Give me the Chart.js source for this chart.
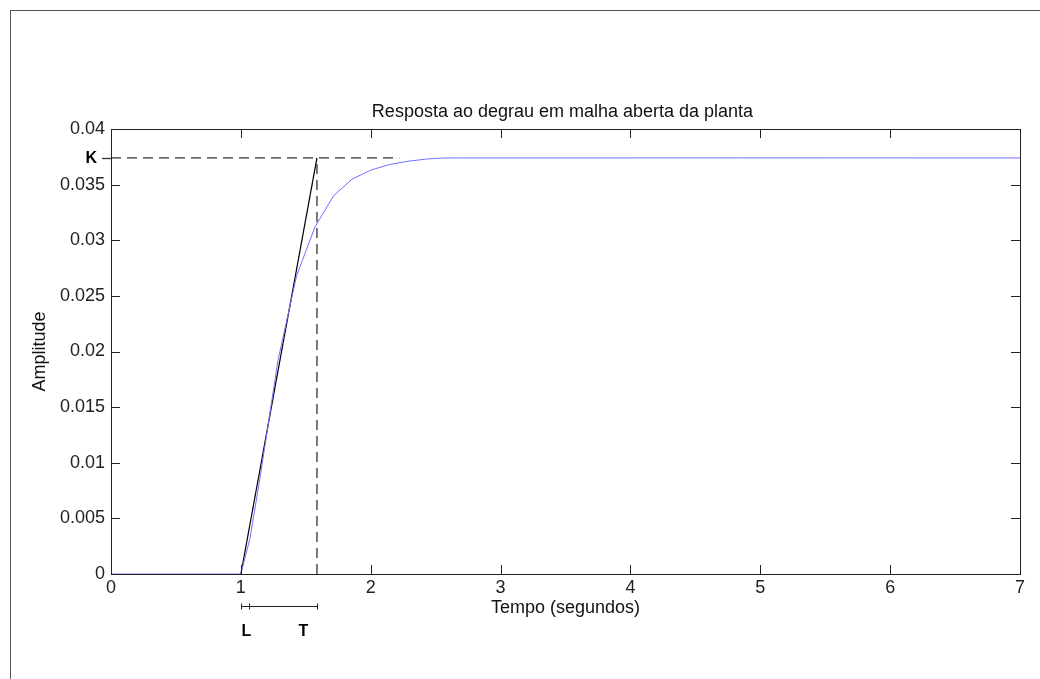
<!DOCTYPE html>
<html>
<head>
<meta charset="utf-8">
<script src="https://cdn.jsdelivr.net/npm/chart.js@4"></script>
<style>
  body { margin: 0; overflow: hidden; background: #fff; }
  #wrap { position: absolute; left: 0; top: 0; width: 1040px; height: 679px; }
  #frame { position: absolute; left: 10px; top: 10px; width: 1100px; height: 800px; border: 1px solid #555; pointer-events: none; }
</style>
</head>
<body>
<div id="wrap"><canvas id="stepChart" width="1040" height="679"></canvas></div>
<div id="frame"></div>
<script>
// Resposta ao degrau
const tempo = [0, 1, 1.07, 1.143, 1.286, 1.429, 1.571, 1.714, 1.857, 2.0, 2.143, 2.286, 2.429, 2.571, 2.714, 7];
const amplitude = [0, 0, 0.0032, 0.0083, 0.0192, 0.0268, 0.0312, 0.0340, 0.0355, 0.0363, 0.0368, 0.0371, 0.0373, 0.0374, 0.0374, 0.0374];

// Parâmetros do método da tangente
const K = 0.0374;
const L = 1.0;
const T = 1.586;
const fimLinhaK = 2.22;
const marcaL = 1.06;

const xTicks = [0, 1, 2, 3, 4, 5, 6, 7];
const yTicks = [0, 0.005, 0.01, 0.015, 0.02, 0.025, 0.03, 0.035, 0.04];

const fonte = { family: 'Liberation Sans, Arial, sans-serif', size: 18 };

// Desenho dos ticks internos, caixa, título e anotações (estilo MATLAB)
const matlabPlugin = {
    id: 'matlabStyle',
    afterDatasetsDraw(chart) {
        const ctx = chart.ctx;
        const a = chart.chartArea;
        const xs = chart.scales.x, ys = chart.scales.y;
        const tl = 9;
        ctx.save();
        ctx.strokeStyle = '#222';
        ctx.lineWidth = 1;
        ctx.beginPath();
        xTicks.forEach(v => {
            const px = Math.round(xs.getPixelForValue(v)) + 0.5;
            ctx.moveTo(px, a.bottom); ctx.lineTo(px, a.bottom - tl);
            ctx.moveTo(px, a.top); ctx.lineTo(px, a.top + tl);
        });
        yTicks.forEach(v => {
            const py = Math.round(ys.getPixelForValue(v)) + 0.5;
            ctx.moveTo(a.left, py); ctx.lineTo(a.left + tl, py);
            ctx.moveTo(a.right, py); ctx.lineTo(a.right - tl, py);
        });
        ctx.stroke();
        ctx.strokeRect(Math.round(a.left) + 0.5, Math.round(a.top) + 0.5,
            Math.round(a.right - a.left), Math.round(a.bottom - a.top));

        // título
        ctx.fillStyle = '#111';
        ctx.font = '18px Liberation Sans, Arial, sans-serif';
        ctx.textAlign = 'center';
        ctx.textBaseline = 'middle';
        ctx.fillText('Resposta ao degrau em malha aberta da planta', (a.left + a.right) / 2 - 3, a.top - 17);

        // K: rótulo e traço fora do eixo
        const pyK = Math.round(ys.getPixelForValue(K)) + 0.5;
        ctx.setLineDash([10, 6]);
        ctx.strokeStyle = '#333';
        ctx.lineWidth = 1.3;
        ctx.beginPath();
        ctx.moveTo(a.left - 9, pyK); ctx.lineTo(a.left, pyK);
        ctx.stroke();
        ctx.setLineDash([]);
        ctx.lineWidth = 1;
        ctx.font = 'bold 16px Liberation Sans, Arial, sans-serif';
        ctx.textAlign = 'right';
        ctx.fillStyle = '#000';
        ctx.fillText('K', a.left - 14, pyK);

        // colchete L / T abaixo do eixo
        const yB = a.bottom + 32.5;
        const pL = Math.round(xs.getPixelForValue(L)) + 0.5;
        const pM = Math.round(xs.getPixelForValue(marcaL)) + 0.5;
        const pT = Math.round(xs.getPixelForValue(T)) + 0.5;
        ctx.strokeStyle = '#222';
        ctx.beginPath();
        ctx.moveTo(pL, yB); ctx.lineTo(pT, yB);
        [pL, pM, pT].forEach(p => { ctx.moveTo(p, yB - 3); ctx.lineTo(p, yB + 3); });
        ctx.stroke();
        ctx.textAlign = 'center';
        ctx.fillText('L', pL + 5, yB + 25);
        ctx.fillText('T', pT - 14, yB + 25);
        ctx.restore();
    }
};

const ctxStep = document.getElementById('stepChart').getContext('2d');

const dataStep = {
    datasets: [
        {
            label: 'Resposta',
            data: tempo.map((t, i) => ({ x: t, y: amplitude[i] })),
            borderColor: 'rgb(112, 112, 255)',
            borderWidth: 1,
            pointRadius: 0,
            tension: 0
        },
        {
            label: 'Tangente',
            data: [{ x: L, y: 0 }, { x: T, y: K }],
            borderColor: '#000',
            borderWidth: 1.2,
            pointRadius: 0
        },
        {
            label: 'K',
            data: [{ x: 0, y: K }, { x: fimLinhaK, y: K }],
            borderColor: '#333',
            borderWidth: 1.3,
            borderDash: [10, 6],
            pointRadius: 0
        },
        {
            label: 'T',
            data: [{ x: T, y: 0 }, { x: T, y: K }],
            borderColor: '#333',
            borderWidth: 1.3,
            borderDash: [10, 6],
            pointRadius: 0
        }
    ]
};

const optionsStep = {
    responsive: false,
    animation: false,
    layout: { padding: { top: 129, right: 20, left: 0, bottom: 0 } },
    plugins: {
        legend: { display: false },
        tooltip: { enabled: false }
    },
    scales: {
        x: {
            type: 'linear',
            min: 0,
            max: 7,
            afterFit: s => { s.height = 105; },
            afterBuildTicks: s => { s.ticks = xTicks.map(v => ({ value: v })); },
            grid: { display: false, drawTicks: false },
            border: { display: false },
            ticks: { color: '#222', font: fonte, padding: 3, maxRotation: 0 },
            title: {
                display: true,
                text: 'Tempo (segundos)',
                color: '#111',
                font: fonte,
                padding: { top: 0, bottom: 60 }
            }
        },
        y: {
            min: 0,
            max: 0.04,
            afterFit: s => { s.width = 111; },
            afterBuildTicks: s => { s.ticks = yTicks.map(v => ({ value: v })); },
            grid: { display: false, drawTicks: false },
            border: { display: false },
            ticks: {
                color: '#222',
                font: fonte,
                padding: 6,
                callback: v => String(+v.toFixed(4))
            },
            title: {
                display: true,
                text: 'Amplitude',
                color: '#111',
                font: fonte,
                padding: { top: 29, bottom: 0 }
            }
        }
    }
};

const stepChart = new Chart(ctxStep, {
    type: 'line',
    data: dataStep,
    options: optionsStep,
    plugins: [matlabPlugin]
});
</script>
</body>
</html>
